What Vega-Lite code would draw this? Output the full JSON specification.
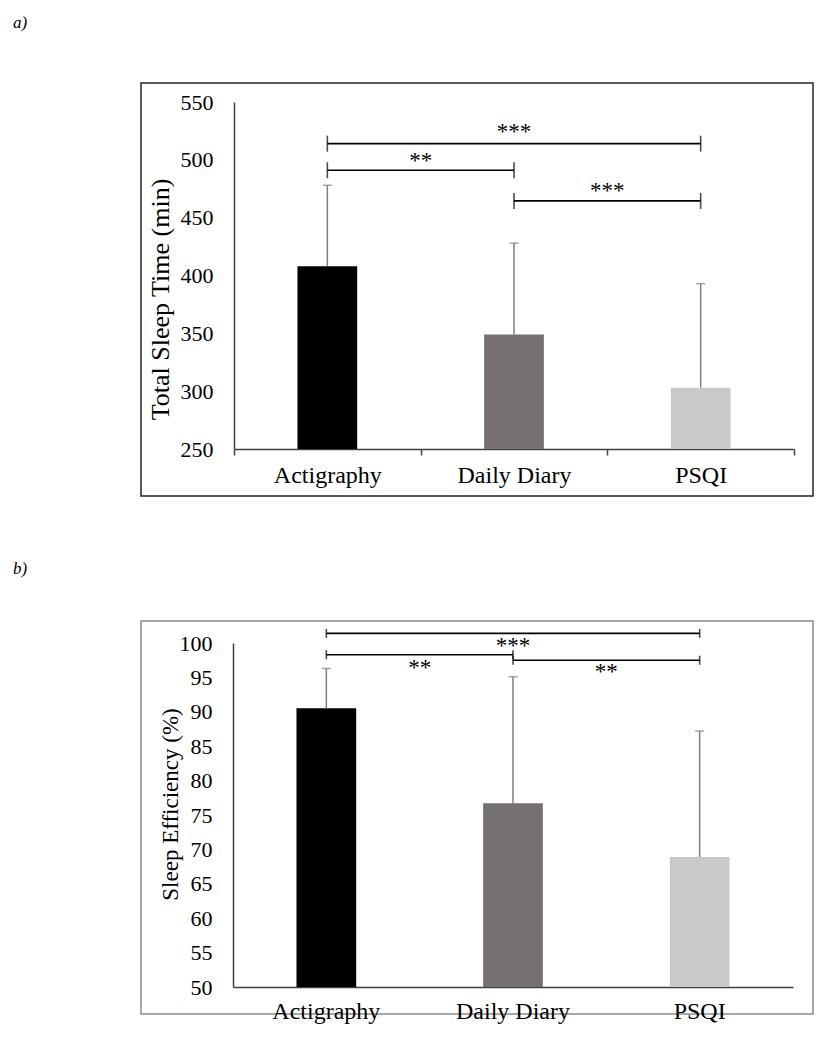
{
  "$schema": "https://vega.github.io/schema/vega-lite/v6.json",
  "background": "white",
  "padding": {"left": 12, "top": 13, "right": 5, "bottom": 5},
  "spacing": 125,
  "bounds": "flush",
  "config": {
    "font": "Liberation Serif",
    "axis": {"labelFont": "Liberation Serif", "titleFont": "Liberation Serif", "labelColor": "black", "titleColor": "black", "titleFontWeight": "normal", "grid": false, "labelOverlap": false, "labelBound": false}
  },
  "datasets": {
    "tst": [
      {"method": "Actigraphy", "mean": 408, "upper": 478},
      {"method": "Daily Diary", "mean": 349, "upper": 428},
      {"method": "PSQI", "mean": 303, "upper": 393}
    ],
    "tst_br": [
      {"from": "Actigraphy", "to": "PSQI", "y": 514},
      {"from": "Actigraphy", "to": "Daily Diary", "y": 491},
      {"from": "Daily Diary", "to": "PSQI", "y": 464.5}
    ],
    "tst_mid": [{"at": "Daily Diary", "y": 518, "label": "***"}],
    "tst_edge": [
      {"at": "Daily Diary", "y": 493, "label": "**"},
      {"at": "PSQI", "y": 467, "label": "***"}
    ],
    "se": [
      {"method": "Actigraphy", "mean": 90.5, "upper": 96.3},
      {"method": "Daily Diary", "mean": 76.7, "upper": 95.1},
      {"method": "PSQI", "mean": 68.9, "upper": 87.2}
    ],
    "se_br": [
      {"from": "Actigraphy", "to": "PSQI", "y": 101.4},
      {"from": "Actigraphy", "to": "Daily Diary", "y": 98.3},
      {"from": "Daily Diary", "to": "PSQI", "y": 97.5}
    ],
    "se_mid": [{"at": "Daily Diary", "y": 98.6, "label": "***"}],
    "se_edge": [
      {"at": "Daily Diary", "y": 95.3, "label": "**"},
      {"at": "PSQI", "y": 94.7, "label": "**"}
    ]
  },
  "vconcat": [
    {
      "width": 672,
      "height": 413,
      "view": {"stroke": "#262626", "strokeWidth": 1.5},
      "title": {"text": "a)", "anchor": "start", "frame": "group", "dx": -128, "offset": 51, "font": "Liberation Serif", "fontStyle": "italic", "fontSize": 17, "fontWeight": "normal", "color": "black"},
      "layer": [
        {
          "data": {"name": "tst"},
          "mark": {"type": "bar", "width": {"band": 0.32}},
          "encoding": {
            "x": {"field": "method", "type": "nominal", "sort": null,
              "scale": {"domain": ["Actigraphy", "Daily Diary", "PSQI"], "range": [93, 653], "paddingInner": 0, "paddingOuter": 0},
              "axis": {"title": null, "labelAngle": 0, "labelFontSize": 24, "labelPadding": 8, "ticks": true, "tickBand": "extent", "tickSize": 6, "tickColor": "#404040", "tickWidth": 1.5, "domainColor": "#404040", "domainWidth": 1.5, "offset": -47}},
            "y": {"field": "mean", "type": "quantitative",
              "scale": {"domain": [250, 550], "range": [366, 19], "nice": false, "zero": false},
              "axis": {"title": "Total Sleep Time (min)", "values": [250, 300, 350, 400, 450, 500, 550], "labelOverlap": false, "ticks": false, "labelPadding": 21, "labelFontSize": 22, "titleFontSize": 26, "titlePadding": 7, "titleY": 216, "domainColor": "#404040", "domainWidth": 1.5, "offset": -93}},
            "y2": {"datum": 250},
            "color": {"field": "method", "type": "nominal", "scale": {"domain": ["Actigraphy", "Daily Diary", "PSQI"], "range": ["#000000", "#767171", "#C9C9C9"]}, "legend": null}
          }
        },
        {
          "data": {"name": "tst"},
          "mark": {"type": "rule", "color": "#7F7F7F", "strokeWidth": 1.5},
          "encoding": {
            "x": {"field": "method", "type": "nominal"},
            "y": {"field": "mean", "type": "quantitative"},
            "y2": {"field": "upper"}
          }
        },
        {
          "data": {"name": "tst"},
          "mark": {"type": "tick", "color": "#7F7F7F", "size": 9, "thickness": 1.5},
          "encoding": {
            "x": {"field": "method", "type": "nominal"},
            "y": {"field": "upper", "type": "quantitative"}
          }
        },
        {
          "data": {"name": "tst_br"},
          "mark": {"type": "rule", "color": "black", "strokeWidth": 1.6},
          "encoding": {
            "x": {"field": "from", "type": "nominal"},
            "x2": {"field": "to"},
            "y": {"field": "y", "type": "quantitative"}
          }
        },
        {
          "data": {"name": "tst_br"},
          "transform": [{"fold": ["from", "to"], "as": ["side", "end"]}],
          "mark": {"type": "tick", "orient": "vertical", "color": "black", "size": 16, "thickness": 1.6},
          "encoding": {
            "x": {"field": "end", "type": "nominal"},
            "y": {"field": "y", "type": "quantitative"}
          }
        },
        {
          "data": {"name": "tst_mid"},
          "mark": {"type": "text", "font": "Liberation Serif", "fontSize": 23, "baseline": "alphabetic", "color": "black"},
          "encoding": {
            "x": {"field": "at", "type": "nominal"},
            "y": {"field": "y", "type": "quantitative"},
            "text": {"field": "label"}
          }
        },
        {
          "data": {"name": "tst_edge"},
          "mark": {"type": "text", "font": "Liberation Serif", "fontSize": 23, "baseline": "alphabetic", "color": "black"},
          "encoding": {
            "x": {"field": "at", "type": "nominal", "bandPosition": 0},
            "y": {"field": "y", "type": "quantitative"},
            "text": {"field": "label"}
          }
        }
      ]
    },
    {
      "width": 672,
      "height": 393,
      "view": {"stroke": "#8C8C8C", "strokeWidth": 1.5},
      "title": {"text": "b)", "anchor": "start", "frame": "group", "dx": -128, "offset": 43, "font": "Liberation Serif", "fontStyle": "italic", "fontSize": 17, "fontWeight": "normal", "color": "black"},
      "layer": [
        {
          "data": {"name": "se"},
          "mark": {"type": "bar", "width": {"band": 0.32}},
          "encoding": {
            "x": {"field": "method", "type": "nominal", "sort": null,
              "scale": {"domain": ["Actigraphy", "Daily Diary", "PSQI"], "range": [92, 652], "paddingInner": 0, "paddingOuter": 0},
              "axis": {"title": null, "labelAngle": 0, "labelFontSize": 24, "labelPadding": 12, "ticks": false, "tickSize": 0, "domainColor": "#404040", "domainWidth": 1.5, "offset": -27}},
            "y": {"field": "mean", "type": "quantitative",
              "scale": {"domain": [50, 100], "range": [366, 22], "nice": false, "zero": false},
              "axis": {"title": "Sleep Efficiency (%)", "values": [50, 55, 60, 65, 70, 75, 80, 85, 90, 95, 100], "tickCount": 11, "labelOverlap": false, "labelSeparation": -30, "ticks": false, "labelPadding": 21, "labelFontSize": 22, "titleFontSize": 23, "titlePadding": -3, "titleY": 183, "domainColor": "#404040", "domainWidth": 1.5, "offset": -92}},
            "y2": {"datum": 50},
            "color": {"field": "method", "type": "nominal", "scale": {"domain": ["Actigraphy", "Daily Diary", "PSQI"], "range": ["#000000", "#767171", "#C9C9C9"]}, "legend": null}
          }
        },
        {
          "data": {"name": "se"},
          "mark": {"type": "rule", "color": "#7F7F7F", "strokeWidth": 1.5},
          "encoding": {
            "x": {"field": "method", "type": "nominal"},
            "y": {"field": "mean", "type": "quantitative"},
            "y2": {"field": "upper"}
          }
        },
        {
          "data": {"name": "se"},
          "mark": {"type": "tick", "color": "#7F7F7F", "size": 9, "thickness": 1.5},
          "encoding": {
            "x": {"field": "method", "type": "nominal"},
            "y": {"field": "upper", "type": "quantitative"}
          }
        },
        {
          "data": {"name": "se_br"},
          "mark": {"type": "rule", "color": "black", "strokeWidth": 1.6},
          "encoding": {
            "x": {"field": "from", "type": "nominal"},
            "x2": {"field": "to"},
            "y": {"field": "y", "type": "quantitative"}
          }
        },
        {
          "data": {"name": "se_br"},
          "transform": [{"fold": ["from", "to"], "as": ["side", "end"]}],
          "mark": {"type": "tick", "orient": "vertical", "color": "black", "size": 9, "thickness": 1.6},
          "encoding": {
            "x": {"field": "end", "type": "nominal"},
            "y": {"field": "y", "type": "quantitative"}
          }
        },
        {
          "data": {"name": "se_mid"},
          "mark": {"type": "text", "font": "Liberation Serif", "fontSize": 23, "baseline": "alphabetic", "color": "black"},
          "encoding": {
            "x": {"field": "at", "type": "nominal"},
            "y": {"field": "y", "type": "quantitative"},
            "text": {"field": "label"}
          }
        },
        {
          "data": {"name": "se_edge"},
          "mark": {"type": "text", "font": "Liberation Serif", "fontSize": 23, "baseline": "alphabetic", "color": "black"},
          "encoding": {
            "x": {"field": "at", "type": "nominal", "bandPosition": 0},
            "y": {"field": "y", "type": "quantitative"},
            "text": {"field": "label"}
          }
        }
      ]
    }
  ]
}
